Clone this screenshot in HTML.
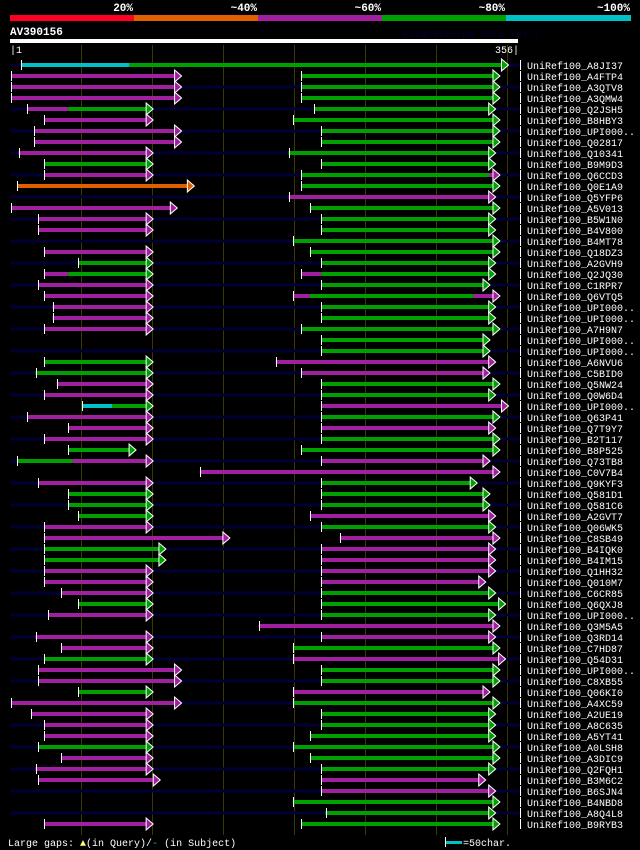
<!DOCTYPE html>
<html><head><meta charset="utf-8"><style>
html,body{margin:0;padding:0;background:#000;}
svg{display:block;font-family:"Liberation Mono",monospace;}
</style></head><body>
<svg id="chart" width="640" height="850" viewBox="0 0 640 850" xmlns="http://www.w3.org/2000/svg">
<rect width="640" height="850" fill="#000"/>
<g id="header">
  <rect x="10" y="15" width="124" height="6" fill="#ff0022"/>
  <rect x="134" y="15" width="124" height="6" fill="#e06000"/>
  <rect x="258" y="15" width="124" height="6" fill="#a020a0"/>
  <rect x="382" y="15" width="124" height="6" fill="#00a000"/>
  <rect x="506" y="15" width="125" height="6" fill="#00c0c8"/>
  <g fill="#fff" font-size="11" font-weight="bold" text-anchor="end">
    <text x="133" y="11">20%</text>
    <text x="257" y="11">~40%</text>
    <text x="381" y="11">~60%</text>
    <text x="505" y="11">~80%</text>
    <text x="630" y="11">~100%</text>
  </g>
  <text x="10" y="35" fill="#fff" font-size="11" font-weight="bold">AV390156</text>
  <text x="402" y="37" fill="#000033" font-size="10">AlignView.pm Beta rel.7</text>
  <rect x="10" y="39" width="508" height="4" fill="#fff"/>
  <text x="10" y="53" fill="#fff" font-size="10">|1</text>
  <text x="519" y="53" fill="#fff" font-size="10" text-anchor="end">356|</text>
</g>
<g id="grid"></g>
<g id="rows"></g>
<g id="footer">
  <text x="8" y="846" fill="#fff" font-size="10">Large gaps: <tspan fill="#ffff80">▲</tspan>(in Query)/<tspan fill="#00c0c8">-</tspan> (in Subject)</text>
  <rect x="445" y="841" width="17" height="3" fill="#00c0c8"/>
  <rect x="445" y="837" width="1" height="10" fill="#fff"/>
  <text x="463" y="846" fill="#fff" font-size="10">=50char.</text>
</g>
</svg>
<script>
const queryLength = 356;
const gridTicks = [50, 100, 150, 200, 250, 300, 350];
const names = ["A8JI37","A4FTP4","A3QTV8","A3QMW4","Q2JSH5","B8HBY3","UPI000..","Q02817","Q10341","B9M9D3",
"Q6CCD3","Q0E1A9","Q5YFP6","A5V013","B5W1N0","B4V800","B4MT78","Q18DZ3","A2GVH9","Q2JQ30",
"C1RPR7","Q6VTQ5","UPI000..","UPI000..","A7H9N7","UPI000..","UPI000..","A6NVU6","C5BID0","Q5NW24",
"Q0W6D4","UPI000..","Q63P41","Q7T9Y7","B2T117","B8P525","Q73TB8","C0V7B4","Q9KYF3","Q581D1",
"Q581C6","A2GVT7","Q06WK5","C8SB49","B4IQK0","B4IM15","Q1HH32","Q010M7","C6CR85","Q6QXJ8",
"UPI000..","Q3M5A5","Q3RD14","C7HD87","Q54D31","UPI000..","C8XB55","Q06KI0","A4XC59","A2UE19",
"A8C635","A5YT41","A0LSH8","A3DIC9","Q2FQH1","B3M6C2","B6SJN4","B4NBD8","A8Q4L8","B9RYB3"];
// each row: list of hits; each hit: list of [start, end, colour] pieces (arrow at hit end)
const hits = [
[[[8,84,"c"],[84,350,"g"]]],
[[[1,120,"m"]],[[205,344,"g"]]],
[[[1,120,"m"]],[[205,344,"g"]]],
[[[1,120,"m"]],[[205,344,"g"]]],
[[[12,41,"m"],[41,100,"g"]],[[214,341,"g"]]],
[[[24,100,"m"]],[[199,344,"g"]]],
[[[17,120,"m"]],[[219,344,"g"]]],
[[[17,120,"m"]],[[219,344,"g"]]],
[[[6,100,"m"]],[[196,341,"g"]]],
[[[24,100,"g"]],[[219,341,"g"]]],
[[[24,100,"m"]],[[205,337,"g"],[337,344,"m"]]],
[[[5,129,"o"]],[[205,344,"g"]]],
[[[196,341,"m"]]],
[[[1,117,"m"]],[[211,344,"g"]]],
[[[20,100,"m"]],[[219,341,"g"]]],
[[[20,100,"m"]],[[219,341,"g"]]],
[[[199,344,"g"]]],
[[[24,100,"m"]],[[211,344,"g"]]],
[[[48,100,"g"]],[[219,341,"g"]]],
[[[24,41,"m"],[41,100,"g"]],[[205,219,"m"],[219,341,"g"]]],
[[[20,100,"m"]],[[219,337,"g"]]],
[[[24,100,"m"]],[[199,211,"m"],[211,326,"g"],[326,344,"m"]]],
[[[30,100,"m"]],[[219,341,"g"]]],
[[[30,100,"m"]],[[219,341,"g"]]],
[[[24,100,"m"]],[[205,344,"g"]]],
[[[219,337,"g"]]],
[[[219,337,"g"]]],
[[[24,100,"g"]],[[187,341,"m"]]],
[[[18,100,"g"]],[[205,337,"m"]]],
[[[33,100,"m"]],[[219,344,"g"]]],
[[[24,100,"m"]],[[219,341,"g"]]],
[[[51,72,"c"],[72,100,"g"]],[[219,350,"m"]]],
[[[12,100,"m"]],[[219,344,"g"]]],
[[[41,100,"m"]],[[219,341,"m"]]],
[[[24,100,"m"]],[[219,344,"g"]]],
[[[41,88,"g"]],[[205,344,"g"]]],
[[[5,44,"g"],[44,100,"m"]],[[219,337,"m"]]],
[[[134,344,"m"]]],
[[[20,100,"m"]],[[219,328,"g"]]],
[[[41,100,"g"]],[[219,337,"g"]]],
[[[41,100,"g"]],[[219,337,"g"]]],
[[[48,100,"g"]],[[211,341,"m"]]],
[[[24,100,"m"]],[[219,341,"g"]]],
[[[24,154,"m"]],[[232,344,"m"]]],
[[[24,109,"g"]],[[219,341,"m"]]],
[[[24,109,"g"]],[[219,341,"m"]]],
[[[24,100,"m"]],[[219,341,"m"]]],
[[[24,100,"m"]],[[219,334,"m"]]],
[[[36,100,"m"]],[[219,341,"g"]]],
[[[48,100,"g"]],[[219,348,"g"]]],
[[[27,100,"m"]],[[219,341,"g"]]],
[[[175,344,"m"]]],
[[[18,100,"m"]],[[219,341,"m"]]],
[[[36,100,"m"]],[[199,344,"g"]]],
[[[24,100,"g"]],[[199,348,"m"]]],
[[[20,120,"m"]],[[219,344,"g"]]],
[[[20,120,"m"]],[[219,344,"g"]]],
[[[48,100,"g"]],[[199,337,"m"]]],
[[[1,120,"m"]],[[199,344,"g"]]],
[[[15,100,"m"]],[[219,341,"g"]]],
[[[24,100,"m"]],[[219,341,"g"]]],
[[[24,100,"m"]],[[211,341,"g"]]],
[[[20,100,"g"]],[[199,344,"g"]]],
[[[36,100,"m"]],[[211,344,"g"]]],
[[[18,100,"m"]],[[219,341,"g"]]],
[[[20,105,"m"]],[[219,334,"m"]]],
[[[219,341,"m"]]],
[[[199,344,"g"]]],
[[[222,341,"g"]]],
[[[24,100,"m"]],[[205,344,"g"]]]
];
const colours = {m:"#a020a0", g:"#00a000", c:"#00c0c8", o:"#e06000"};
const NS = "http://www.w3.org/2000/svg";
function xScale(r){ return 10 + r * (506 / queryLength); }
function yRow(i){ return 65 + i * 11; }
function mk(tag, attrs, parent){
  const e = document.createElementNS(NS, tag);
  for (const k in attrs) e.setAttribute(k, attrs[k]);
  parent.appendChild(e);
  return e;
}
const grid = document.getElementById("grid");
gridTicks.forEach(t => {
  const l = mk("rect", {x: Math.round(xScale(t)), y: 45, width: 1, height: 790, fill: "#3a3a00"}, grid);
  
  
});
const rowsG = document.getElementById("rows");
names.forEach((n, i) => {
  const y = yRow(i);
  const g = mk("g", {}, rowsG);
  
  
  if (i % 2 === 0) {
    const bg = mk("rect", {x: 10, y: y - 1.5, width: 510, height: 3, fill: "#000033"}, g);
    
    
  }
  (hits[i] || []).forEach(hit => {
    hit.forEach(p => {
      const x1 = xScale(p[0]), x2 = xScale(p[1]);
      const b = mk("rect", {x: x1, y: y - 2, width: Math.max(1, x2 - x1), height: 4, fill: colours[p[2]]}, g);
      
      
    });
    const first = hit[0], last = hit[hit.length - 1];
    const sx = Math.round(xScale(first[0]));
    const tk = mk("rect", {x: sx, y: y - 5, width: 1, height: 10, fill: "#fff"}, g);
    
    
    const ex = xScale(last[1]);
    const ar = mk("polygon", {points: (ex-6)+","+(y-6)+" "+(ex+1)+","+y+" "+(ex-6)+","+(y+6), fill: colours[last[2]], stroke: "#fff", "stroke-width": 1}, g);
    
    
  });
  const br = mk("rect", {x: 520, y: y - 5, width: 1, height: 10, fill: "#fff"}, g);
  
  
  const t = mk("text", {x: 527, y: y + 4, fill: "#fff", "font-size": 10}, g);
  t.textContent = "UniRef100_" + n;
  
  
});
</script>
</body></html>
